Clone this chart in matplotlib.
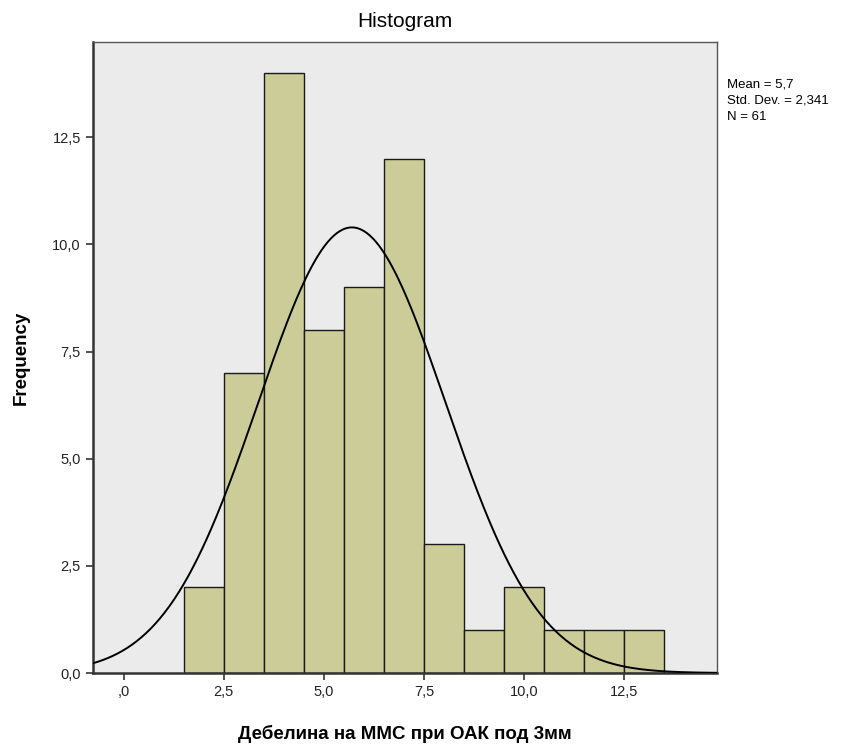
"""SPSS style histogram with normal curve."""
import numpy as np
import matplotlib
matplotlib.use("Agg")
import matplotlib.pyplot as plt

plt.rcParams['font.family'] = ['Liberation Sans', 'DejaVu Sans']

bin_left = [1.5, 2.5, 3.5, 4.5, 5.5, 6.5, 7.5, 8.5, 9.5, 10.5, 11.5, 12.5]
counts = [2, 7, 14, 8, 9, 12, 3, 1, 2, 1, 1, 1]
mean = 5.7
std = 2.341
n = 61
x_ticks = [0, 2.5, 5.0, 7.5, 10.0, 12.5]
x_tick_labels = [",0", "2,5", "5,0", "7,5", "10,0", "12,5"]
y_ticks = [0, 2.5, 5.0, 7.5, 10.0, 12.5]
y_tick_labels = ["0,0", "2,5", "5,0", "7,5", "10,0", "12,5"]

fig = plt.figure(figsize=(8.57, 7.45), dpi=100)
ax = fig.add_axes([0.108, 0.0966, 0.729, 0.847])
ax.set_facecolor("#ebebeb")

ax.bar(bin_left, counts, width=1.0, align="edge", color="#cccc99",
       edgecolor="#1a1a1a", linewidth=1.0, zorder=2)

xs = np.linspace(-0.78, 14.83, 400)
ys = n * 1.0 / (std * np.sqrt(2 * np.pi)) * np.exp(-0.5 * ((xs - mean) / std) ** 2)
ax.plot(xs, ys, color="black", linewidth=1.4, zorder=3)

ax.set_xlim(-0.78, 14.83)
ax.set_ylim(0, 14.72)
ax.set_xticks(x_ticks)
ax.set_xticklabels(x_tick_labels)
ax.set_yticks(y_ticks)
ax.set_yticklabels(y_tick_labels)
ax.tick_params(labelsize=10.5, length=5, width=1.2, colors="#333333",
               labelcolor="#222222")

for side in ["left", "bottom"]:
    ax.spines[side].set_linewidth(1.8)
    ax.spines[side].set_color("#333333")
for side in ["top", "right"]:
    ax.spines[side].set_linewidth(1.0)
    ax.spines[side].set_color("#555555")

ax.set_title("Histogram", fontsize=15, pad=11)
ax.set_xlabel("Дебелина на ММС при ОАК под 3мм", fontsize=13.5,
              fontweight="bold", labelpad=19)
ax.set_ylabel("Frequency", fontsize=13.5, fontweight="bold", labelpad=16)

fig.text(0.848, 0.895, "Mean = 5,7\nStd. Dev. = 2,341\nN = 61",
         fontsize=9.5, va="top", ha="left", linespacing=1.5)

fig.savefig("out.png", dpi=100)
